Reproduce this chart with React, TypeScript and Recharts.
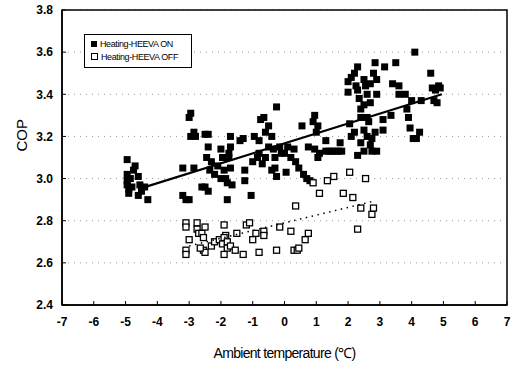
import { ScatterChart, Scatter, XAxis, YAxis, CartesianGrid, Legend, ReferenceArea } from 'recharts';

const xTicks = [-7, -6, -5, -4, -3, -2, -1, 0, 1, 2, 3, 4, 5, 6, 7];
const yTicks = [2.4, 2.6, 2.8, 3.0, 3.2, 3.4, 3.6, 3.8];

// [ambient temperature, COP]
const heevaOn: [number, number][] = [
  [-4.95, 3.09], [-4.95, 3.02], [-4.95, 2.99], [-4.95, 2.97], [-4.9, 2.95], [-4.9, 2.93],
  [-4.85, 3.0], [-4.8, 2.96], [-4.75, 3.04], [-4.7, 3.06], [-4.6, 3.01], [-4.55, 2.97],
  [-4.5, 2.94], [-4.4, 2.96], [-4.3, 2.9], [-4.6, 2.92],
  [-3.2, 3.05], [-3.2, 2.92], [-3.1, 2.9], [-3.0, 2.9],
  [-3.0, 3.29], [-2.95, 3.31], [-2.95, 3.2], [-2.85, 3.22], [-2.8, 3.2], [-2.85, 3.05],
  [-2.6, 2.96], [-2.5, 2.96], [-2.4, 2.94],
  [-2.5, 3.21], [-2.4, 3.21], [-2.4, 3.15], [-2.45, 3.1], [-2.35, 3.04], [-2.3, 3.08],
  [-2.2, 3.02], [-2.1, 3.06], [-2.0, 3.14], [-1.95, 3.1], [-2.0, 3.0], [-1.9, 3.04],
  [-1.85, 3.0], [-1.8, 2.98], [-1.75, 3.12], [-1.7, 3.15], [-1.7, 3.2], [-1.75, 3.1],
  [-1.8, 2.9], [-1.7, 3.05], [-1.65, 2.97],
  [-1.4, 3.18], [-1.3, 3.19], [-1.25, 3.04], [-1.25, 2.99], [-1.05, 2.92], [-1.0, 3.08],
  [-0.95, 3.2], [-0.85, 3.1], [-0.8, 3.18], [-0.75, 3.28], [-0.65, 3.29], [-0.6, 3.22],
  [-0.5, 3.25], [-0.4, 3.2], [-0.35, 3.14], [-0.3, 3.1], [-0.25, 3.34], [-0.3, 3.05],
  [-0.25, 3.01], [-0.5, 3.15], [-0.6, 3.1], [-0.7, 3.07], [-0.8, 3.12], [-0.4, 3.04],
  [-0.15, 3.15], [-0.1, 3.12], [0.0, 3.12], [0.05, 3.03], [0.1, 3.15], [0.2, 3.1],
  [0.3, 3.14], [0.35, 3.08], [0.45, 3.05], [0.55, 3.25], [0.6, 3.02], [0.7, 3.0],
  [0.8, 2.99], [0.75, 3.15], [0.9, 3.27], [0.95, 3.3], [1.0, 3.22], [1.05, 3.25],
  [0.95, 3.14], [1.05, 3.1], [1.1, 3.12], [1.3, 3.18], [1.3, 3.13], [1.4, 3.13],
  [1.5, 3.13], [1.6, 3.13], [1.7, 3.13], [1.75, 3.17], [1.8, 3.13],
  [2.0, 3.41], [2.0, 3.46], [2.1, 3.48], [2.2, 3.5], [2.3, 3.53], [2.25, 3.44],
  [2.35, 3.38], [2.5, 3.47], [2.6, 3.4], [2.7, 3.45], [2.8, 3.5], [2.85, 3.55],
  [2.9, 3.47], [2.9, 3.4], [2.7, 3.36], [2.5, 3.35], [2.4, 3.33], [2.3, 3.42], [2.55, 3.44],
  [2.05, 3.26], [2.1, 3.2], [2.2, 3.22], [2.3, 3.11], [2.4, 3.29], [2.4, 3.17],
  [2.5, 3.23], [2.5, 3.13], [2.6, 3.2], [2.65, 3.27], [2.7, 3.16], [2.75, 3.19],
  [2.85, 3.22], [2.9, 3.13], [2.6, 3.29], [2.75, 3.13],
  [3.1, 3.23], [3.1, 3.28], [3.15, 3.53], [3.35, 3.3], [3.4, 3.45], [3.5, 3.55],
  [3.6, 3.4], [3.6, 3.44], [3.8, 3.4], [3.85, 3.33], [3.9, 3.29], [3.95, 3.24],
  [4.0, 3.37], [4.05, 3.19], [4.1, 3.6], [4.15, 3.19], [4.25, 3.22], [4.3, 3.37],
  [4.6, 3.5], [4.65, 3.43], [4.7, 3.37], [4.75, 3.42], [4.85, 3.44], [4.9, 3.43], [4.8, 3.36],
];

const heevaOff: [number, number][] = [
  [-3.1, 2.79], [-3.1, 2.77], [-3.1, 2.66], [-3.1, 2.64], [-3.0, 2.71], [-2.75, 2.79],
  [-2.75, 2.76], [-2.7, 2.74], [-2.6, 2.74], [-2.55, 2.72], [-2.5, 2.77], [-2.55, 2.66],
  [-2.5, 2.65], [-2.65, 2.67], [-2.3, 2.68], [-2.2, 2.7], [-2.05, 2.71], [-1.95, 2.69],
  [-1.9, 2.78], [-1.85, 2.73], [-1.9, 2.72], [-1.8, 2.7], [-1.9, 2.64], [-1.8, 2.67],
  [-1.7, 2.68], [-1.55, 2.66], [-1.5, 2.74], [-1.3, 2.64], [-1.2, 2.78], [-1.1, 2.79],
  [-1.0, 2.71], [-0.9, 2.74], [-0.65, 2.75], [-0.65, 2.73], [-0.8, 2.65], [-0.25, 2.66],
  [-0.15, 2.77], [0.2, 2.75], [0.3, 2.66], [0.35, 2.87], [0.4, 2.66], [0.45, 2.67],
  [0.65, 2.71], [0.75, 2.74], [0.9, 2.98], [1.1, 2.93], [1.35, 2.99], [1.55, 3.01],
  [1.85, 2.93], [2.05, 3.03], [2.15, 2.91], [2.3, 2.76], [2.4, 2.86], [2.55, 3.0],
  [2.75, 2.83], [2.8, 2.86],
];

const trendOn: [number, number][] = [[-4.6, 2.95], [4.95, 3.4]];
const trendOff: [number, number][] = [[-3.0, 2.68], [2.87, 2.895]];

const toPts = (arr: [number, number][]) => arr.map(([x, y]) => ({ x, y }));

const FilledSquare = (props: any) => {
  const { cx, cy } = props;
  if (cx == null || cy == null) return null;
  return <rect x={cx - 3.5} y={cy - 3.5} width={7} height={7} fill="#000" />;
};

const OpenSquare = (props: any) => {
  const { cx, cy } = props;
  if (cx == null || cy == null) return null;
  return <rect x={cx - 3} y={cy - 3} width={6} height={6} fill="#fff" stroke="#000" strokeWidth={1.3} />;
};

const NoDot = () => null;

const LegendBox = () => (
  <div
    style={{
      border: '1px solid #000',
      background: '#fff',
      width: 100,
      padding: '3px 0 3px 6px',
      fontFamily: '"Liberation Sans Narrow", "Liberation Sans", Arial, sans-serif',
      fontSize: 9,
      letterSpacing: -0.4,
      lineHeight: '13px',
      color: '#000',
      textAlign: 'left',
    }}
  >
    <div style={{ height: 13, whiteSpace: 'nowrap' }}>
      <span style={{ display: 'inline-block', width: 6, height: 6, background: '#000', marginRight: 3 }} />
      Heating-HEEVA ON
    </div>
    <div style={{ height: 13, whiteSpace: 'nowrap' }}>
      <span style={{ display: 'inline-block', width: 5, height: 5, border: '1px solid #000', marginRight: 3 }} />
      Heating-HEEVA OFF
    </div>
  </div>
);

export default function App() {
  const font = '"Liberation Sans", Arial, sans-serif';
  return (
    <div style={{ position: 'absolute', left: 0, top: 0, background: '#fff' }}>
      <ScatterChart width={513} height={367} margin={{ top: 10, right: 6, left: 22, bottom: 2 }}>
        <CartesianGrid vertical={false} stroke="#999" strokeDasharray="1 5" />
        <XAxis
          type="number"
          dataKey="x"
          domain={[-7, 7]}
          ticks={xTicks}
          interval={0}
          height={60}
          axisLine={{ stroke: '#000', strokeWidth: 1.5 }}
          tickLine={{ stroke: '#000' }}
          tickSize={-4}
          tickMargin={16}
          tick={{ fill: '#000', fontSize: 12, fontWeight: 'bold', fontFamily: font }}
          label={{ value: 'Ambient temperature (℃)', position: 'insideBottom', offset: 7, fill: '#000', fontSize: 14, fontFamily: font, letterSpacing: -0.7 }}
        />
        <YAxis
          type="number"
          dataKey="y"
          domain={[2.4, 3.8]}
          ticks={yTicks}
          interval={0}
          width={40}
          axisLine={{ stroke: '#000', strokeWidth: 1.5 }}
          tickLine={{ stroke: '#000' }}
          tickSize={-4}
          tickMargin={13}
          tickFormatter={(v: number) => v.toFixed(1)}
          tick={{ fill: '#000', fontSize: 12, fontWeight: 'bold', fontFamily: font }}
          label={{ value: 'COP', angle: -90, position: 'insideLeft', offset: 0, dy: -6, fill: '#000', fontSize: 15, fontFamily: font }}
        />
        <ReferenceArea x1={-7} x2={7} y1={2.4} y2={3.8} fill="none" stroke="#000" strokeWidth={1.5} fillOpacity={0} />
        <Legend
          layout="horizontal"
          verticalAlign="middle"
          align="center"
          content={<LegendBox />}
          wrapperStyle={{ position: 'absolute', left: 84, top: 34, width: 'auto', height: 'auto' }}
        />
        <Scatter name="Heating-HEEVA ON" data={toPts(heevaOn)} shape={<FilledSquare />} isAnimationActive={false} />
        <Scatter name="Heating-HEEVA OFF" data={toPts(heevaOff)} shape={<OpenSquare />} isAnimationActive={false} />
        <Scatter
          data={toPts(trendOn)}
          line={{ stroke: '#000', strokeWidth: 2.2 }}
          shape={<NoDot />}
          legendType="none"
          isAnimationActive={false}
        />
        <Scatter
          data={toPts(trendOff)}
          line={{ stroke: '#000', strokeWidth: 1.5, strokeDasharray: '1.5 4.5' }}
          shape={<NoDot />}
          legendType="none"
          isAnimationActive={false}
        />
      </ScatterChart>
    </div>
  );
}
